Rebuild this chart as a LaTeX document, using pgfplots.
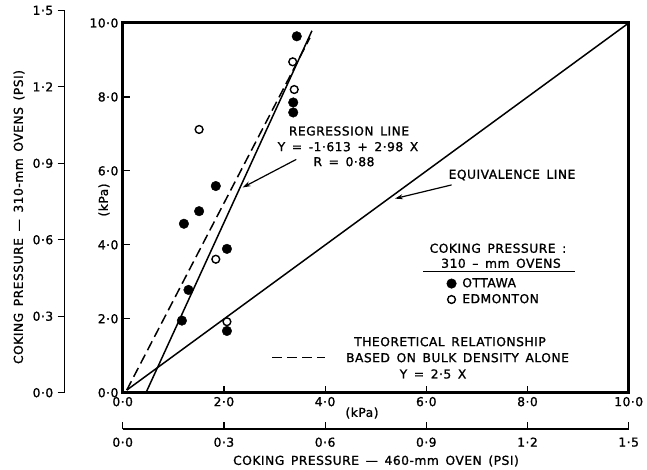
\documentclass[border=0pt]{standalone}
\usepackage{fontspec}
\setmainfont{DejaVu Sans}[LetterSpace=4,WordSpace=1.5,FakeBold=1.2]
\usepackage{pgfplots}
\usetikzlibrary{arrows.meta}
\pgfplotsset{compat=1.18}
\begin{document}
\fontsize{12.3}{14}\selectfont
\begin{tikzpicture}[x=1pt,y=1pt,font=\fontsize{12.3}{14}\selectfont]
\useasboundingbox (0,0) rectangle (647,470);
\pgfplotsset{
  every non boxed x axis/.append style={x axis line style=-},
  every non boxed y axis/.append style={y axis line style=-},
  /pgf/number format/assume math mode=true,
}
% left PSI axis
\begin{axis}[
  at={(64.5pt,77.3pt)}, anchor=south west, scale only axis,
  width=20pt, height=382.3pt,
  xmin=0,xmax=1, ymin=0,ymax=1.5,
  hide x axis, axis y line*=left,
  y axis line style={line width=1.4pt},
  ytick={0,0.3,0.6,0.9,1.2,1.5},
  yticklabels={0·0,0·3,0·6,0·9,1·2,1·5},
  tick align=outside, major tick length=7pt,
  tick style={line width=1.2pt, black},
]
\end{axis}
% bottom PSI axis
\begin{axis}[
  at={(122.7pt,40.7pt)}, anchor=south west, scale only axis,
  width=506pt, height=20pt,
  xmin=0,xmax=1.5, ymin=0,ymax=1,
  hide y axis, axis x line*=bottom,
  x axis line style={line width=1.8pt},
  xtick={0,0.3,0.6,0.9,1.2,1.5},
  xticklabels={0·0,0·3,0·6,0·9,1·2,1·5},
  tick align=inside, major tick length=7pt,
  tick style={line width=1.2pt, black},
  xticklabel style={yshift=-4pt},
]
\end{axis}
% main axis
\begin{axis}[
  at={(122.7pt,77.3pt)}, anchor=south west, scale only axis,
  width=506pt, height=369.7pt,
  xmin=0,xmax=10, ymin=0,ymax=10,
  axis line style={line width=3pt},
  xtick={0,2,4,6,8,10}, ytick={0,2,4,6,8,10},
  xticklabels={0·0,2·0,4·0,6·0,8·0,10·0},
  yticklabels={0·0,2·0,4·0,6·0,8·0,10·0},
  xtick pos=left, ytick pos=left,
  tick align=inside, major tick length=7pt,
  tick style={line width=1.2pt, black},
  clip=false,
  legend style={draw=none, fill=none, at={(0.640,0.316)}, anchor=north west,
    inner sep=0pt, row sep=1pt, font=\fontsize{12.3}{14}\selectfont},
  legend cell align=left,
  legend image code/.code={\draw[mark repeat=2,mark phase=2,#1] plot coordinates {(0pt,0pt) (4.5pt,0pt) (9pt,0pt)};},
]
\addplot[black, line width=1.5pt, forget plot] coordinates {(0.46,0) (3.74,9.79)};
\addplot[black, line width=1.5pt, dash pattern=on 10pt off 5pt, forget plot] coordinates {(0.08,0.07) (3.70,9.6)};
\addplot[black, line width=1.5pt, forget plot] coordinates {(0.08,0.07) (10,10)};
\addplot[only marks, mark=*, mark size=4.8pt, black] coordinates {
 (3.44,9.64) (3.37,7.85) (3.37,7.58) (1.84,5.59) (1.51,4.91)
 (1.21,4.57) (2.06,3.89) (1.30,2.78) (1.17,1.95) (2.06,1.67)};
\addplot[only marks, mark=o, mark size=3.9pt, black, line width=1.4pt] coordinates {
 (3.36,8.95) (3.39,8.20) (1.51,7.12) (1.84,3.61) (2.06,1.92)};
\legend{\hspace{4pt}OTTAWA, \hspace{4pt}EDMONTON}
\draw[-{Stealth[length=8pt,width=5pt]}, line width=1.2pt] (axis cs:3.43,6.31) -- (axis cs:2.37,5.55);
\draw[-{Stealth[length=8pt,width=5pt]}, line width=1.2pt] (axis cs:6.50,5.62) -- (axis cs:5.38,5.25);
\end{axis}
% texts
\node[rotate=90] at (19,253) {COKING PRESSURE — 310-mm OVENS (PSI)};
\node at (376,9) {COKING PRESSURE — 460-mm OVEN (PSI)};
\node at (362,57) {(kPa)};
\node[rotate=90] at (104,270) {(kPa)};
\node at (349,339) {REGRESSION LINE};
\node at (348,323.3) {Y = -1·613 + 2·98 X};
\node at (344,308.3) {R = 0·88};
\node at (512,295) {EQUIVALENCE LINE};
\node at (498,221.7) {COKING PRESSURE :};
\node at (501,206.7) {310 – mm OVENS};
\draw[line width=1.2pt] (423,198.3) -- (575,198.3);
\node at (450,128.3) {THEORETICAL RELATIONSHIP};
\node at (457.5,112.3) {BASED ON BULK DENSITY ALONE};
\draw[line width=1.3pt, dash pattern=on 10pt off 5pt] (272,112.3) -- (325,112.3);
\node at (433,96) {Y = 2·5 X};
\end{tikzpicture}
\end{document}
